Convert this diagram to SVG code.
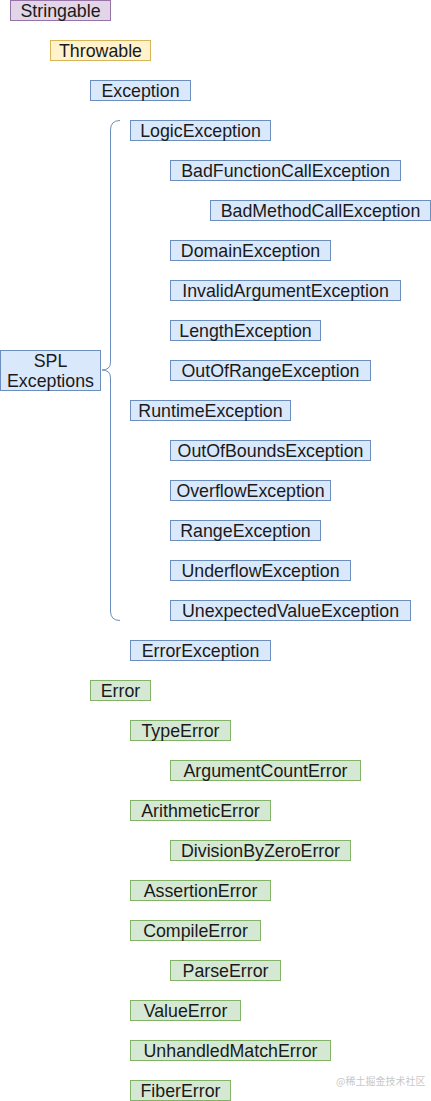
<svg xmlns="http://www.w3.org/2000/svg" width="431" height="1101" viewBox="0 0 431 1101">
<style>
rect{stroke-width:1}
.p{fill:#e1d5e7;stroke:#9673a6}
.y{fill:#fff2cc;stroke:#d6b656}
.b{fill:#dae8fc;stroke:#6c8ebf}
.g{fill:#d5e8d4;stroke:#82b366}
text{font-family:"Liberation Sans",Arial,sans-serif;font-size:17.8px;fill:#1a1a1a;text-anchor:middle}
.wm{font-family:"Noto Sans CJK SC",sans-serif;font-size:10px;fill:#c8c8c8;text-anchor:start}
</style>
<rect width="431" height="1101" fill="#ffffff"/>
<g id="connectors">
<path d="M120,120.5 Q110.5,120.5 110.5,130 L110.5,362 Q110.5,370 102,370 Q110.5,370 110.5,378 L110.5,611 Q110.5,620.5 120,620.5" fill="none" stroke="#6c8ebf" stroke-width="1"/>
</g>
<g id="stringable"><rect class="p" x="10.5" y="0.5" width="100" height="20"/><text x="60.5" y="16.7">Stringable</text></g>
<g id="throwable"><rect class="y" x="50.5" y="40.5" width="100" height="20"/><text x="100.5" y="56.7">Throwable</text></g>
<g id="exception"><rect class="b" x="90.5" y="80.5" width="100" height="20"/><text x="140.5" y="96.7">Exception</text></g>
<g id="spl"><rect class="b" x="0.5" y="350.5" width="100" height="40"/><text x="50.5" y="366.5">SPL</text><text x="50.5" y="386.5">Exceptions</text></g>
<g id="logicexception"><rect class="b" x="130.5" y="120.5" width="140" height="20"/><text x="200.5" y="136.7">LogicException</text></g>
<g id="badfunctioncall"><rect class="b" x="170.5" y="160.5" width="230" height="20"/><text x="285.5" y="176.7">BadFunctionCallException</text></g>
<g id="badmethodcall"><rect class="b" x="210.5" y="200.5" width="220" height="20"/><text x="320.5" y="216.7">BadMethodCallException</text></g>
<g id="domain"><rect class="b" x="170.5" y="240.5" width="160" height="20"/><text x="250.5" y="256.7">DomainException</text></g>
<g id="invalidargument"><rect class="b" x="170.5" y="280.5" width="230" height="20"/><text x="285.5" y="296.7">InvalidArgumentException</text></g>
<g id="length"><rect class="b" x="170.5" y="320.5" width="150" height="20"/><text x="245.5" y="336.7">LengthException</text></g>
<g id="outofrange"><rect class="b" x="170.5" y="360.5" width="200" height="20"/><text x="270.5" y="376.7">OutOfRangeException</text></g>
<g id="runtime"><rect class="b" x="130.5" y="400.5" width="160" height="20"/><text x="210.5" y="416.7">RuntimeException</text></g>
<g id="outofbounds"><rect class="b" x="170.5" y="440.5" width="200" height="20"/><text x="270.5" y="456.7">OutOfBoundsException</text></g>
<g id="overflow"><rect class="b" x="170.5" y="480.5" width="160" height="20"/><text x="250.5" y="496.7">OverflowException</text></g>
<g id="range"><rect class="b" x="170.5" y="520.5" width="150" height="20"/><text x="245.5" y="536.7">RangeException</text></g>
<g id="underflow"><rect class="b" x="170.5" y="560.5" width="180" height="20"/><text x="260.5" y="576.7">UnderflowException</text></g>
<g id="unexpectedvalue"><rect class="b" x="170.5" y="600.5" width="240" height="20"/><text x="290.5" y="616.7">UnexpectedValueException</text></g>
<g id="errorexception"><rect class="b" x="130.5" y="640.5" width="140" height="20"/><text x="200.5" y="656.7">ErrorException</text></g>
<g id="error"><rect class="g" x="90.5" y="680.5" width="60" height="20"/><text x="120.5" y="696.7">Error</text></g>
<g id="typeerror"><rect class="g" x="130.5" y="720.5" width="100" height="20"/><text x="180.5" y="736.7">TypeError</text></g>
<g id="argumentcount"><rect class="g" x="170.5" y="760.5" width="190" height="20"/><text x="265.5" y="776.7">ArgumentCountError</text></g>
<g id="arithmetic"><rect class="g" x="130.5" y="800.5" width="140" height="20"/><text x="200.5" y="816.7">ArithmeticError</text></g>
<g id="divisionbyzero"><rect class="g" x="170.5" y="840.5" width="180" height="20"/><text x="260.5" y="856.7">DivisionByZeroError</text></g>
<g id="assertion"><rect class="g" x="130.5" y="880.5" width="140" height="20"/><text x="200.5" y="896.7">AssertionError</text></g>
<g id="compile"><rect class="g" x="130.5" y="920.5" width="130" height="20"/><text x="195.5" y="936.7">CompileError</text></g>
<g id="parse"><rect class="g" x="170.5" y="960.5" width="110" height="20"/><text x="225.5" y="976.7">ParseError</text></g>
<g id="value"><rect class="g" x="130.5" y="1000.5" width="110" height="20"/><text x="185.5" y="1016.7">ValueError</text></g>
<g id="unhandledmatch"><rect class="g" x="130.5" y="1040.5" width="200" height="20"/><text x="230.5" y="1056.7">UnhandledMatchError</text></g>
<g id="fiber"><rect class="g" x="130.5" y="1080.5" width="100" height="20"/><text x="180.5" y="1096.7">FiberError</text></g>
<text class="wm" x="336" y="1085">@稀土掘金技术社区</text>
</svg>
